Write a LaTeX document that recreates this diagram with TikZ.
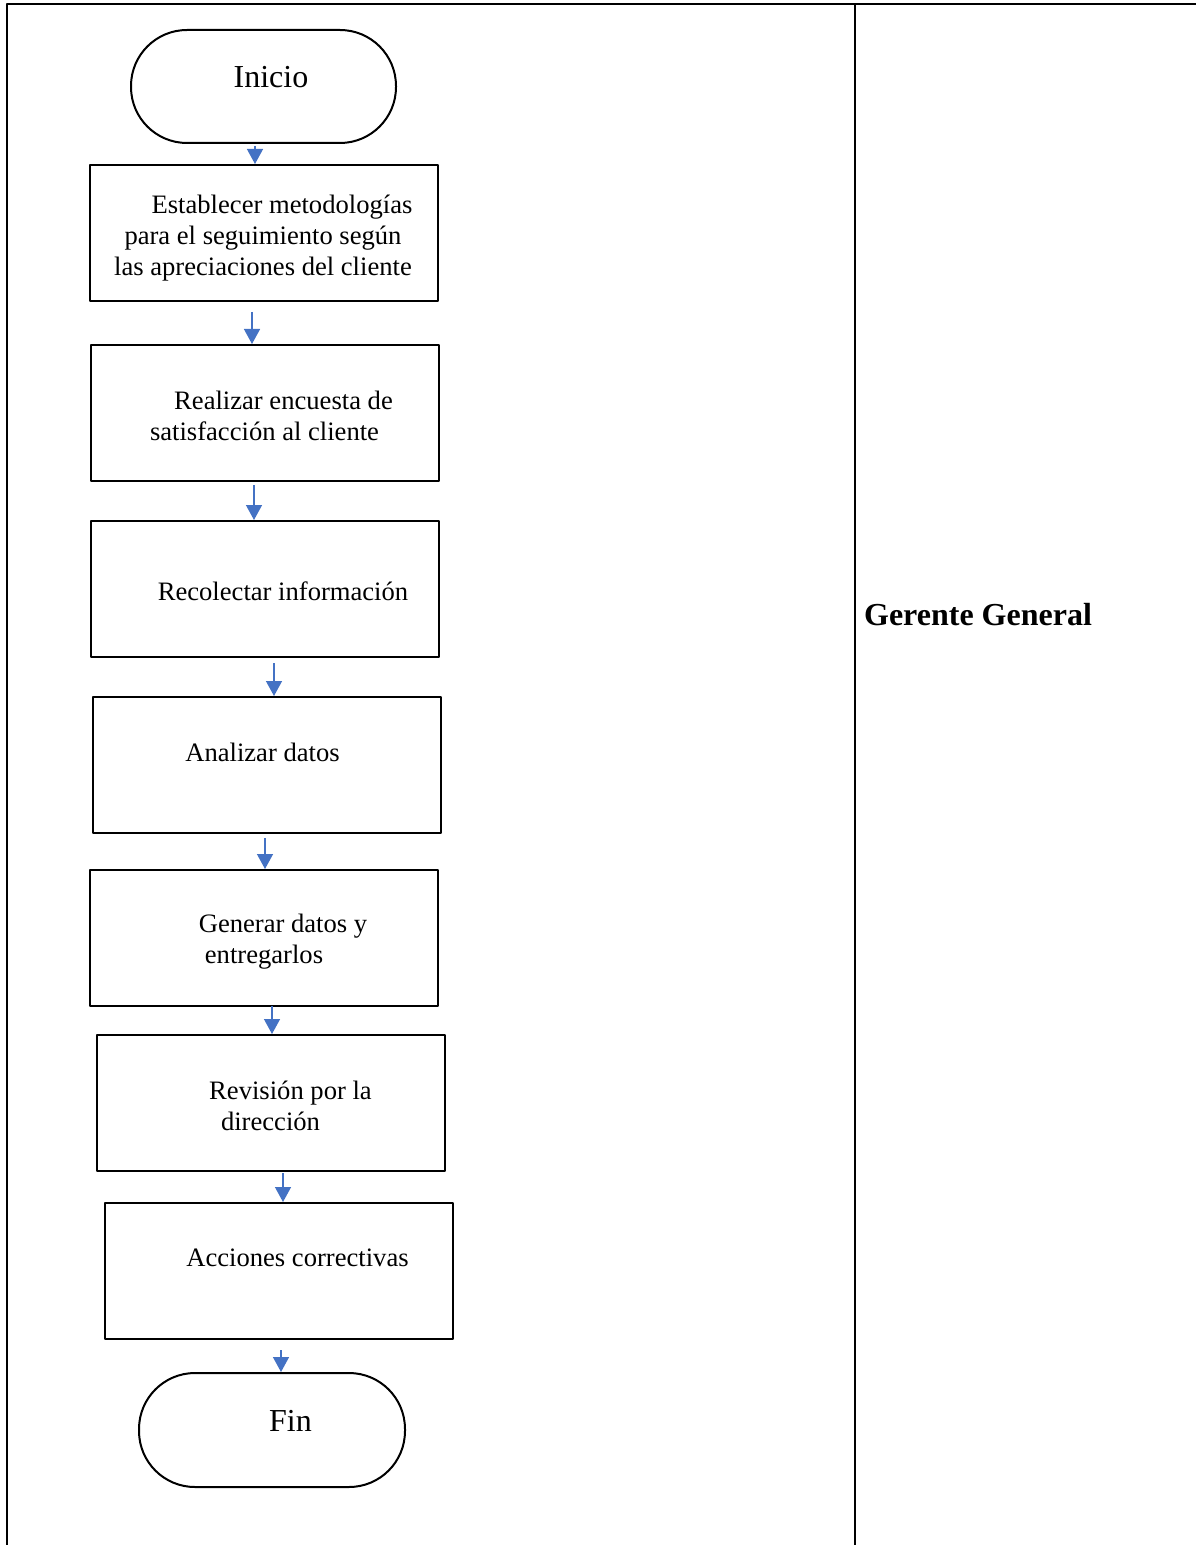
\documentclass[tikz,border=0pt]{standalone}
\usepackage{fontspec}
\setmainfont{Liberation Serif}
\usetikzlibrary{arrows.meta}
\definecolor{flowblue}{HTML}{4472C4}
\tikzset{
  every picture/.style={
    line join=round,
    x=0.5pt, y=-0.5pt,              % one unit = one pixel of the page, y downward
  },
  terminal/.style={draw, line width=1pt, rounded corners=28pt,
    minimum width=132.5pt, minimum height=56.5pt, inner sep=0pt},
  process/.style={draw, line width=1pt,
    minimum width=174pt, minimum height=68pt, inner sep=0pt},
  txt/.style={align=center, inner sep=0pt, font=\fontsize{13.3}{15.4}\selectfont},
  bigtxt/.style={inner sep=0pt, font=\fontsize{16}{19}\selectfont},
  flow/.style={-{Triangle[length=7.5pt,width=8pt]}, draw=flowblue, line width=0.7pt},
}

\begin{document}
\begin{tikzpicture}
\useasboundingbox (0,0) rectangle (1196,1545);
% table frame
\draw[line width=1pt] (7,1545) -- (7,4) -- (1196,4);
\draw[line width=1pt] (855,4) -- (855,1545);
\node[bigtxt,font=\fontsize{16}{19}\selectfont\bfseries] (gerente) at (978,615) {Gerente General};

% shapes
\node[terminal] (inicio) at (263.5,86.5) {};
\node[process] (b1) at (264,233) {};
\node[process] (b2) at (265,413) {};
\node[process] (b3) at (265,589) {};
\node[process] (b4) at (267,765) {};
\node[process] (b5) at (264,938) {};
\node[process] (b6) at (271,1103) {};
\node[process] (b7) at (279,1271) {};
\node[terminal,minimum width=133pt,minimum height=57pt] (fin) at (272,1430) {};

% texts, first lines indented as in the source
\node[bigtxt] (inicio-t) at (271,77) {Inicio};
\node[txt] (b1-t) at (263,238) {\hspace*{19pt}Establecer metodologías\\para el seguimiento según\\las apreciaciones del cliente};
\node[txt] (b2-t) at (264.5,416) {\hspace*{19pt}Realizar encuesta de\\satisfacción al cliente};
\node[txt] (b3-t) at (283,591) {Recolectar información};
\node[txt] (b4-t) at (262.5,752) {Analizar datos};
\node[txt] (b5-t) at (264,942) {\hspace*{19pt}Generar datos y\\entregarlos};
\node[txt] (b6-t) at (270.5,1106) {\hspace*{20pt}Revisión por la\\dirección};
\node[txt] (b7-t) at (297.5,1258) {Acciones correctivas};
\node[bigtxt] (fin-t) at (290.5,1421) {Fin};

% arrows
\coordinate (s1) at (255,146);
\coordinate (s2) at (252,312);
\coordinate (s3) at (254,485);
\coordinate (s4) at (274,663);
\coordinate (s5) at (265,838);
\coordinate (s6) at (272,1006);
\coordinate (s7) at (283,1173);
\coordinate (s8) at (281,1350);
\draw[flow] (s1) -- (s1 |- b1.north);
\draw[flow] (s2) -- (s2 |- b2.north);
\draw[flow] (s3) -- (s3 |- b3.north);
\draw[flow] (s4) -- (s4 |- b4.north);
\draw[flow] (s5) -- (s5 |- b5.north);
\draw[flow] (s6) -- (s6 |- b6.north);
\draw[flow] (s7) -- (s7 |- b7.north);
\draw[flow] (s8) -- (s8 |- fin.north);
\end{tikzpicture}
\end{document}
